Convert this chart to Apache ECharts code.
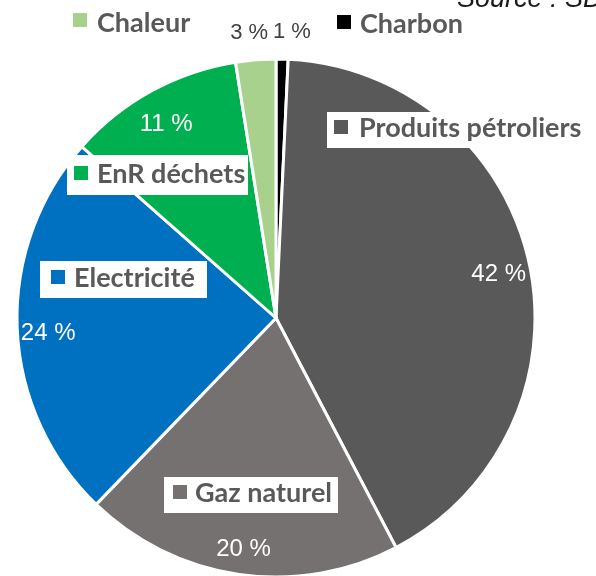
<!DOCTYPE html>
<html>
<head>
<meta charset="utf-8">
<script src="https://cdn.jsdelivr.net/npm/echarts@6/dist/echarts.min.js"></script>
<style>
html,body{margin:0;padding:0;background:#fff;}
#c{width:596px;height:576px;}
</style>
</head>
<body>
<div id="c"></div>
<script>
// Data (clockwise from 12 o'clock)
const categories = ['Charbon', 'Produits pétroliers', 'Gaz naturel', 'Electricité', 'EnR déchets', 'Chaleur'];
const shares = [0.75, 41.6, 19.9, 24.3, 11.0, 2.5];
const pctLabels = ['1 %', '42 %', '20 %', '24 %', '11 %', '3 %'];
const sourceText = 'Source : SDES';

// Styles
const colors = ['#000000', '#595959', '#767171', '#0070C0', '#00B050', '#A9D18E'];
const CX = 276, CY = 318, R = 259;
const outsideIdx = [0, 5];
const outsideOffsets = { 0: [9, 6], 5: [-4, 6] };

// Category label layout: [boxX, boxY, boxW, boxH, sqX, sqY, textX, textBaseline]
const catLayout = {
  'Chaleur':             [66, 6, 132, 32, 73, 13, 97, 32],
  'Charbon':             [330, 8, 140, 32, 337, 15, 360, 33],
  'Produits pétroliers': [327, 112, 269, 36, 334, 120, 359, 137],
  'EnR déchets':         [67, 155, 181, 40, 74, 166, 97, 183],
  'Electricité':         [40, 261, 167, 37, 51, 270, 74, 287],
  'Gaz naturel':         [164, 477, 174, 36, 173, 485, 195, 502]
};

const chart = echarts.init(document.getElementById('c'), null, {renderer: 'canvas'});

const mainData = categories.map((n, i) => ({ name: n, value: shares[i], itemStyle: { color: colors[i] } }));
const innerLabelData = categories.map((n, i) => ({
  name: n, value: shares[i],
  label: { show: outsideIdx.indexOf(i) < 0, formatter: pctLabels[i], offset: [0, 6] }
}));
const outerLabelData = categories.map((n, i) => ({
  name: n, value: shares[i],
  label: { show: outsideIdx.indexOf(i) >= 0, formatter: pctLabels[i], offset: outsideOffsets[i] || [0, 0] }
}));

const graphics = [];
categories.forEach((n, i) => {
  const L = catLayout[n];
  graphics.push({ type: 'rect', shape: { x: L[0], y: L[1], width: L[2], height: L[3] }, style: { fill: '#ffffff' }, z: 100 });
  graphics.push({ type: 'rect', shape: { x: L[4], y: L[5], width: 14, height: 14 }, style: { fill: colors[i] }, z: 101 });
  graphics.push({ type: 'text', x: L[6], y: L[7] - 9, style: { text: n, font: 'bold 27px Lato', fill: '#595959', verticalAlign: 'middle', align: 'left' }, z: 101 });
});
graphics.push({ type: 'text', x: 457, y: 8 - 9, style: { text: sourceText, font: 'italic 27px "Liberation Sans"', fill: '#1a1a1a', verticalAlign: 'middle', align: 'left' }, z: 101 });

chart.setOption({
  animation: false,
  backgroundColor: '#ffffff',
  series: [
    {
      type: 'pie', center: [CX, CY], radius: R, startAngle: 90, clockwise: true,
      label: { show: false }, labelLine: { show: false }, silent: true,
      itemStyle: { borderColor: '#ffffff', borderWidth: 3 },
      data: mainData
    },
    {
      type: 'pie', center: [CX, CY], radius: [191, R], startAngle: 90, clockwise: true,
      silent: true, itemStyle: { color: 'transparent' }, labelLine: { show: false },
      label: { position: 'inside', color: '#ffffff', fontFamily: 'Liberation Sans', fontSize: 24 },
      data: innerLabelData, z: 3
    },
    {
      type: 'pie', center: [CX, CY], radius: [274, 304], startAngle: 90, clockwise: true,
      silent: true, itemStyle: { color: 'transparent' }, labelLine: { show: false },
      label: { position: 'inside', color: '#404040', fontFamily: 'Liberation Sans', fontSize: 22 },
      data: outerLabelData, z: 3
    }
  ],
  graphic: graphics
});
</script>
</body>
</html>
